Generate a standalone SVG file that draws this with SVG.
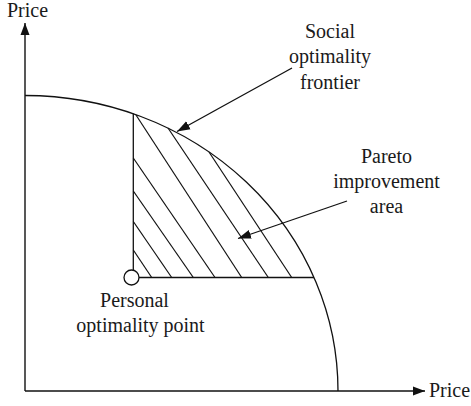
<svg xmlns="http://www.w3.org/2000/svg" width="471" height="406" viewBox="0 0 471 406">
<style>
  .t { font-family: "Liberation Serif", "Times New Roman", serif; font-size: 20px; fill: #1a1a1a; }
  .c { text-anchor: middle; }
  .ln { stroke: #111; stroke-width: 1.3; fill: none; }
  .ax { stroke: #111; stroke-width: 1.4; fill: none; }
  .h { stroke: #111; stroke-width: 1.2; fill: none; }
</style>
<defs>
  <marker id="arr" markerUnits="userSpaceOnUse" markerWidth="14" markerHeight="10" refX="13" refY="5" orient="auto">
    <path d="M0,0.5 L13,5 L0,9.5 z" fill="#111"/>
  </marker>
  <marker id="axarr" markerUnits="userSpaceOnUse" markerWidth="13" markerHeight="10" refX="12" refY="5" orient="auto">
    <path d="M0,0.5 L12,5 L0,9.5 z" fill="#111"/>
  </marker>
</defs>
<rect width="471" height="406" fill="#fff"/>

<g id="axes">
  <line class="ax" x1="25" y1="391" x2="25" y2="23" marker-end="url(#axarr)"/>
  <line class="ax" x1="25" y1="391" x2="425" y2="391" marker-end="url(#axarr)"/>
  <text class="t" x="7" y="17">Price</text>
  <text class="t" x="429" y="397">Price</text>
</g>

<g id="frontier">
  <path class="ln" d="M25,95.5 A313,295.5 0 0 1 338,391"/>
</g>

<g id="pareto-area">
  <line class="ln" x1="133.3" y1="113.6" x2="133.3" y2="277.5"/>
  <line class="ln" x1="133.3" y1="277.5" x2="314" y2="277.5"/>
  <line class="h" x1="133.3" y1="250" x2="151.7" y2="277.5"/>
  <line class="h" x1="133.3" y1="221.5" x2="171.7" y2="277.5"/>
  <line class="h" x1="133.3" y1="191" x2="193.3" y2="277.5"/>
  <line class="h" x1="133.3" y1="158" x2="215" y2="277.5"/>
  <line class="h" x1="136" y1="115" x2="241.7" y2="277.5"/>
  <line class="h" x1="168" y1="128" x2="268.3" y2="277.5"/>
  <line class="h" x1="209" y1="152" x2="291.7" y2="277.5"/>
</g>

<g id="personal-point">
  <circle cx="131.5" cy="277.5" r="7.5" fill="#fff" stroke="#111" stroke-width="1.3"/>
  <text class="t c" x="134.5" y="307">Personal</text>
  <text class="t c" x="140.5" y="332">optimality point</text>
</g>

<g id="social-label">
  <text class="t c" x="330" y="37.5">Social</text>
  <text class="t c" x="330" y="63">optimality</text>
  <text class="t c" x="330" y="88.5">frontier</text>
</g>

<g id="pareto-label">
  <text class="t c" x="386.5" y="162.5">Pareto</text>
  <text class="t c" x="386.5" y="188">improvement</text>
  <text class="t c" x="386.5" y="213">area</text>
</g>

<g id="connectors">
  <line class="ln" x1="292" y1="68" x2="177" y2="131.5" marker-end="url(#arr)"/>
  <line class="ln" x1="347" y1="201" x2="238" y2="238.5" marker-end="url(#arr)"/>
</g>
</svg>
